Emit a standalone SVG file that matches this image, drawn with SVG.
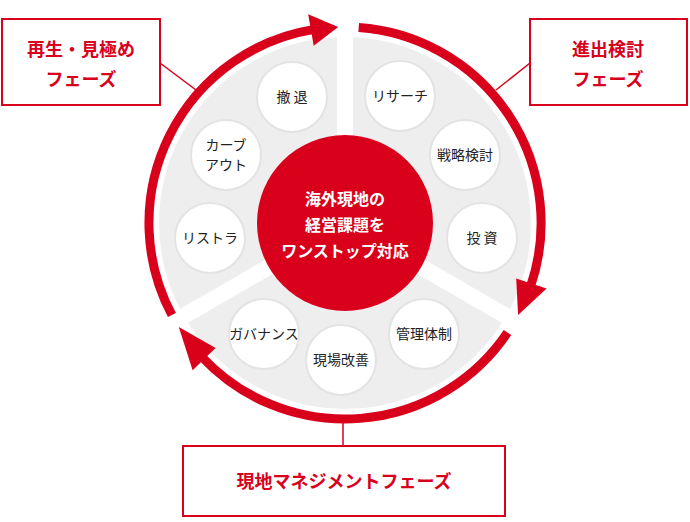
<svg xmlns="http://www.w3.org/2000/svg" width="690" height="522" viewBox="0 0 690 522">
<style>
.t{font-family:"Noto Sans CJK JP","Noto Sans",sans-serif;text-anchor:middle}
.s{font-size:14px;fill:#222}
.p{font-size:18px;fill:#d9001b;font-weight:bold}
.c{font-size:16px;fill:#fff;font-weight:bold}
.sc{fill:#fff;stroke:#e3e3e3;stroke-width:2}
.box{fill:#fff;stroke:#d9001b;stroke-width:2}
.ring{fill:none;stroke:#d9001b;stroke-width:9}
.ah{fill:#d9001b}
</style>
<rect width="690" height="522" fill="#fff"/>
<g id="bg">
<circle cx="345" cy="223" r="186" fill="#eeeeee"/>
<g stroke="#fff" stroke-width="16">
<line x1="345" y1="223" x2="345" y2="30"/>
<line x1="345" y1="223" x2="520" y2="324"/>
<line x1="345" y1="223" x2="170" y2="324"/>
</g>
</g>
<g id="connectors">
<path class="ring" d="M358.7,27.5 A196 196 0 0 1 530.4,286.9"/>
<polygon class="ah" points="516.2,278.6 546.6,288.5 518.1,315"/>
<path class="ring" d="M507.5,332.6 A196 196 0 0 1 201.7,356.7"/>
<polygon class="ah" points="215.6,348.1 192.6,370.3 178.8,326.9"/>
<path class="ring" d="M171.9,315 A196 196 0 0 1 314.4,29.4"/>
<polygon class="ah" points="313.7,45.7 308.2,14.2 338.2,27.1"/>
<g stroke="#d9001b" stroke-width="1.5">
<line x1="160" y1="63" x2="196" y2="90"/>
<line x1="530" y1="63" x2="496" y2="90"/>
<line x1="343" y1="420" x2="343" y2="446"/>
</g>
</g>
<g id="center"><circle cx="345" cy="223" r="88" fill="#d9001b"/>
<text class="t c" x="345" y="205">海外現地の</text>
<text class="t c" x="345" y="231">経営課題を</text>
<text class="t c" x="345" y="257">ワンストップ対応</text></g>
<g id="n1"><circle class="sc" cx="292" cy="97" r="35"/><text class="t s" x="292" y="102">撤 退</text></g>
<g id="n2"><circle class="sc" cx="400" cy="96" r="35"/><text class="t s" x="400" y="101">リサーチ</text></g>
<g id="n3"><circle class="sc" cx="465" cy="155" r="35"/><text class="t s" x="465" y="160">戦略検討</text></g>
<g id="n4"><circle class="sc" cx="482" cy="238" r="35"/><text class="t s" x="482" y="243">投 資</text></g>
<g id="n5"><circle class="sc" cx="424" cy="334" r="35"/><text class="t s" x="424" y="339">管理体制</text></g>
<g id="n6"><circle class="sc" cx="341" cy="360" r="35"/><text class="t s" x="341" y="365">現場改善</text></g>
<g id="n7"><circle class="sc" cx="264" cy="334" r="35"/><text class="t s" x="264" y="339">ガバナンス</text></g>
<g id="n8"><circle class="sc" cx="210" cy="238" r="35"/><text class="t s" x="210" y="243">リストラ</text></g>
<g id="n9"><circle class="sc" cx="226" cy="155" r="35"/><text class="t s" x="226" y="150">カーブ</text><text class="t s" x="226" y="170">アウト</text></g>
<g id="b1"><rect class="box" x="2" y="19" width="158" height="86"/><text class="t p" x="81" y="56">再生・見極め</text><text class="t p" x="81" y="86">フェーズ</text></g>
<g id="b2"><rect class="box" x="530" y="19" width="157" height="86"/><text class="t p" x="608" y="56">進出検討</text><text class="t p" x="608" y="86">フェーズ</text></g>
<g id="b3"><rect class="box" x="183" y="446" width="322" height="70"/><text class="t p" x="344" y="488">現地マネジメントフェーズ</text></g>
</svg>
